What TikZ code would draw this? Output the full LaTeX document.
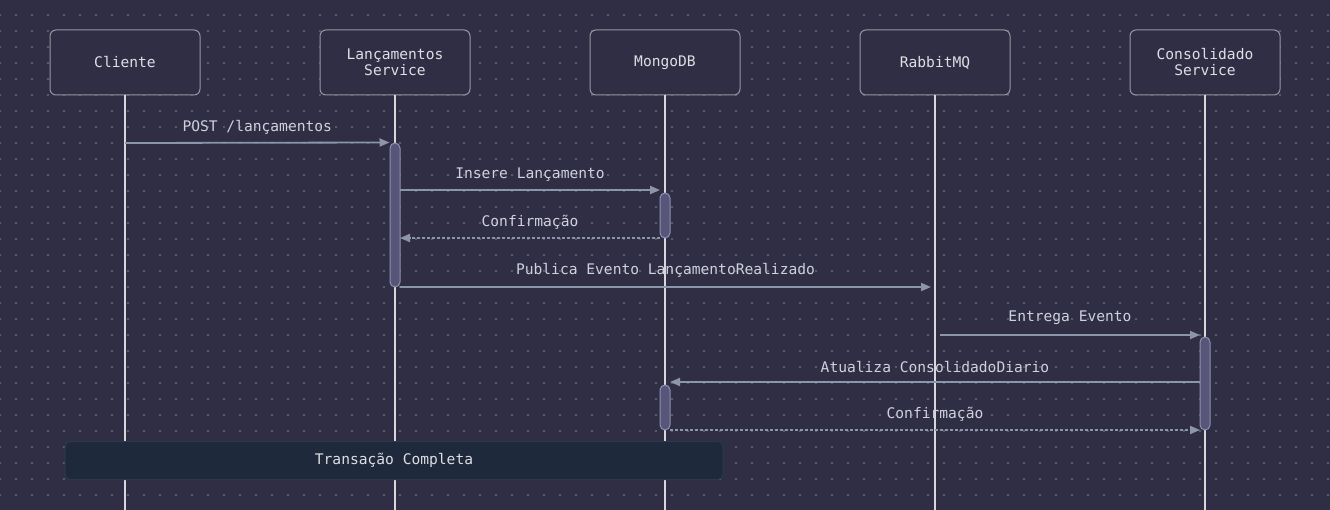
\documentclass[tikz,border=0pt]{standalone}
\usepackage{fontspec}
\setmainfont{DejaVu Sans Mono}
\usetikzlibrary{arrows.meta}
\definecolor{bg}{RGB}{48,46,69}
\definecolor{dotc}{RGB}{88,88,106}
\definecolor{boxline}{RGB}{150,150,160}
\definecolor{txt}{RGB}{222,222,228}
\definecolor{lbl}{RGB}{205,210,220}
\definecolor{arr}{RGB}{140,150,170}
\definecolor{actfill}{RGB}{88,85,122}
\definecolor{actline}{RGB}{145,143,170}
\definecolor{life}{RGB}{215,215,220}
\definecolor{notefill}{RGB}{30,41,59}
\definecolor{noteline}{RGB}{44,56,76}
\tikzset{
  part/.style={draw=boxline, line width=1pt, fill=bg, rounded corners=6pt,
    minimum width=150pt, minimum height=65pt, inner sep=0pt, text=txt,
    align=center, font=\fontsize{14.6}{16}\selectfont},
  actbar/.style={draw=actline, line width=1pt, fill=actfill, rounded corners=5pt,
    minimum width=10pt, inner sep=0pt},
  lifeline/.style={draw=life, line width=1.6pt},
  msg/.style={draw=arr, line width=1.8pt, -{Triangle[length=10pt,width=8pt]}},
  ret/.style={msg, dash pattern=on 3pt off 2pt},
  mlabel/.style={text=lbl, font=\fontsize{14.6}{16}\selectfont, inner sep=0pt},
  notebox/.style={draw=noteline, line width=1pt, fill=notefill, rounded corners=5pt,
    minimum width=658pt, minimum height=38pt, inner sep=0pt, text=txt,
    font=\fontsize{14.6}{16}\selectfont}
}
\begin{document}
\begin{tikzpicture}[x=1pt,y=-1pt]
\useasboundingbox (0,0) rectangle (1330,510);
\fill[bg] (0,0) rectangle (1330,510);
\foreach \i in {0,...,83}{
  \foreach \j in {0,...,31}{
    \fill[dotc] (16*\i-0.65,14.35+16*\j) rectangle ++(1.3,1.3);
  }
}
% participants
\node[part] (cli) at (125,62.5) {Cliente};
\node[part] (lan) at (395,62.5) {Lançamentos\\Service};
\node[part] (mon) at (665,62.5) {MongoDB};
\node[part] (rab) at (935,62.5) {RabbitMQ};
\node[part] (con) at (1205,62.5) {Consolidado\\Service};
% lifeline ends
\coordinate (cliE) at (125,510);
\coordinate (lanE) at (395,510);
\coordinate (monE) at (665,510);
\coordinate (rabE) at (935,510);
\coordinate (conE) at (1205,510);
\draw[lifeline] (cli.south) -- (cliE);
\draw[lifeline] (lan.south) -- (lanE);
\draw[lifeline] (mon.south) -- (monE);
\draw[lifeline] (rab.south) -- (rabE);
\draw[lifeline] (con.south) -- (conE);
% activation bars
\node[actbar, minimum height=144pt] (actL) at (395,215) {};
\node[actbar, minimum height=45pt] (actM1) at (665,215.5) {};
\node[actbar, minimum height=93pt] (actC) at (1205,383.5) {};
\node[actbar, minimum height=45pt] (actM2) at (665,407.5) {};
% message endpoints
\coordinate (m1a) at (125,143);
\coordinate (m1b) at (actL.north west);
\coordinate (m2a) at (400,190);
\coordinate (m2b) at (660,190);
\coordinate (m3a) at (660,238);
\coordinate (m3b) at (400,238);
\coordinate (m4a) at (400,287);
\coordinate (m4b) at (931,287);
\coordinate (m5a) at (940,335);
\coordinate (m5b) at (1200,335);
\coordinate (m6a) at (1200,382);
\coordinate (m6b) at (670,382);
\coordinate (m7a) at (670,430);
\coordinate (m7b) at (1200,430);
\draw[msg] (m1a) -- (m1b) node[mlabel, midway, above=8pt] (l1) {POST /lançamentos};
\draw[msg] (m2a) -- (m2b) node[mlabel, midway, above=8pt] (l2) {Insere Lançamento};
\draw[ret] (m3a) -- (m3b) node[mlabel, midway, above=8pt] (l3) {Confirmação};
\draw[msg] (m4a) -- (m4b) node[mlabel, midway, above=9pt] (l4) {Publica Evento LançamentoRealizado};
\draw[msg] (m5a) -- (m5b) node[mlabel, midway, above=9pt] (l5) {Entrega Evento};
\draw[msg] (m6a) -- (m6b) node[mlabel, midway, above=8pt] (l6) {Atualiza ConsolidadoDiario};
\draw[ret] (m7a) -- (m7b) node[mlabel, midway, above=8pt] (l7) {Confirmação};
% note
\node[notebox] (note) at (394,460.5) {Transação Completa};
\end{tikzpicture}
\end{document}
